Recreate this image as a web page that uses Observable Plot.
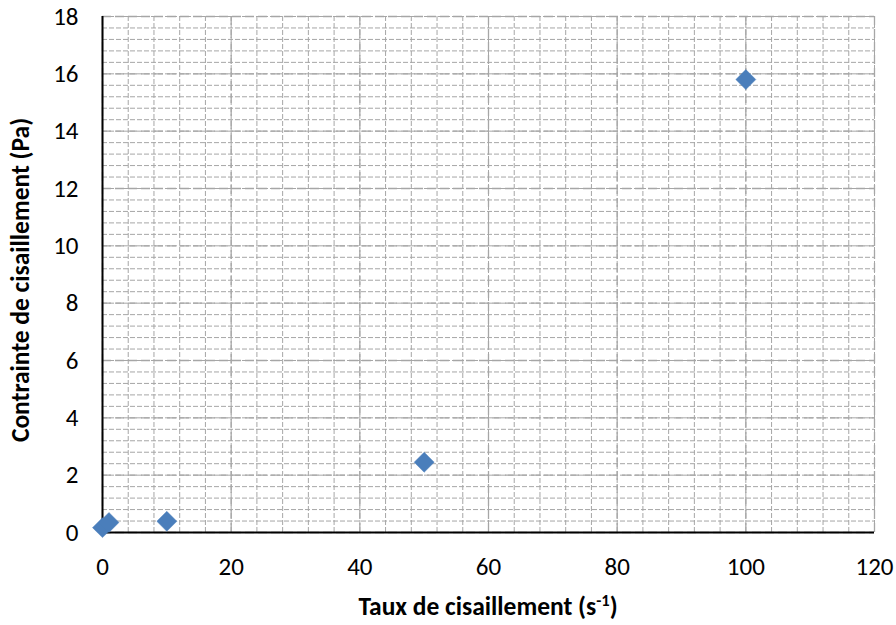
<!DOCTYPE html>
<html>
<head>
<meta charset="utf-8">
<script src="https://cdn.jsdelivr.net/npm/d3@7"></script>
<script src="https://cdn.jsdelivr.net/npm/@observablehq/plot@0.6"></script>
<style>
  html, body { margin: 0; padding: 0; background: #fff; }
  #chart svg { display: block; }
</style>
</head>
<body>
<div id="chart"></div>
<script>
// Data
const shearRate = [0, 1, 10, 50, 100];               // Taux de cisaillement (s-1)
const shearStress = [0.17, 0.35, 0.39, 2.45, 15.8];  // Contrainte de cisaillement (Pa)
const xTicks = [0, 20, 40, 60, 80, 100, 120];
const yTicks = [0, 2, 4, 6, 8, 10, 12, 14, 16, 18];
const xMinor = d3.range(0, 121, 4);
const yMinor = d3.range(0, 18.01, 0.4);
const xTitle = "Taux de cisaillement (s";
const xTitleSup = "-1";
const yTitle = "Contrainte de cisaillement (Pa)";

const points = shearRate.map((x, i) => ({x, y: shearStress[i]}));

const W = 896, H = 625;
const font = "Calibri, Carlito, Lato, 'Open Sans', sans-serif";
const tickFs = 25, titleFs = 25.5;

const plot = Plot.plot({
  width: W,
  height: H,
  marginLeft: 102,
  marginRight: 22,
  marginTop: 16,
  marginBottom: 93,
  style: {fontFamily: font, background: "#fff", color: "#000"},
  x: {domain: [0, 120]},
  y: {domain: [0, 18]},
  marks: [
    Plot.ruleX(xMinor, {stroke: "#a6a6a6", strokeWidth: 1, strokeDasharray: "5,2"}),
    Plot.ruleY(yMinor, {stroke: "#a6a6a6", strokeWidth: 1, strokeDasharray: "5,2"}),
    Plot.ruleX(xTicks, {stroke: "#a6a6a6", strokeWidth: 1.3, strokeDasharray: "9,4"}),
    Plot.ruleY(yTicks, {stroke: "#a6a6a6", strokeWidth: 1.3, strokeDasharray: "9,4"}),
    Plot.ruleX([0], {stroke: "#000", strokeWidth: 2}),
    Plot.ruleY([0], {stroke: "#000", strokeWidth: 2}),
    Plot.axisX({ticks: xTicks, tickSize: 0, tickPadding: 25, label: null}),
    Plot.axisY({ticks: yTicks, tickSize: 0, tickPadding: 24, label: null}),
    Plot.dot(points, {x: "x", y: "y", symbol: "diamond2", r: 9, fill: "#4a7ebb", stroke: "#4a7ebb", strokeWidth: 0.5})
  ]
});

const svg = d3.select(plot);
svg.selectAll('g[aria-label="x-axis tick label"], g[aria-label="y-axis tick label"]')
  .attr("font-size", tickFs).attr("fill", "#000");

const xt = svg.append("text")
  .attr("x", 488).attr("y", 615)
  .attr("text-anchor", "middle")
  .attr("font-family", font)
  .attr("font-weight", "bold")
  .attr("font-size", titleFs)
  .attr("fill", "#000");
xt.append("tspan").text(xTitle);
xt.append("tspan").attr("font-size", titleFs * 0.65).attr("dy", -9).text(xTitleSup);
xt.append("tspan").attr("dy", 9).text(")");

svg.append("text")
  .attr("transform", "translate(29,280) rotate(-90)")
  .attr("text-anchor", "middle")
  .attr("font-family", font)
  .attr("font-weight", "bold")
  .attr("font-size", titleFs)
  .attr("fill", "#000")
  .text(yTitle);

document.getElementById("chart").appendChild(plot);
</script>
</body>
</html>
